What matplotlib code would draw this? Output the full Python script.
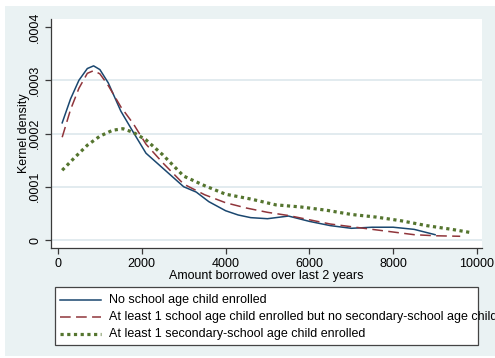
import matplotlib
matplotlib.use("Agg")
import matplotlib.pyplot as plt
from matplotlib.patches import Rectangle
from matplotlib.lines import Line2D

plt.rcParams['font.family'] = ['Liberation Sans', 'DejaVu Sans']

# densities (y in units of 1e-4)
x_none = [100, 300, 500, 700, 850, 1000, 1200, 1500, 1800, 2100, 2500, 3000,
          3300, 3600, 4000, 4300, 4600, 5000, 5500, 6000, 6500, 7000, 7500,
          8000, 8500, 9000]
y_none = [2.20, 2.65, 3.00, 3.22, 3.27, 3.20, 2.95, 2.42, 2.02, 1.63, 1.35, 1.00,
          0.90, 0.72, 0.55, 0.47, 0.42, 0.40, 0.45, 0.35, 0.27, 0.22, 0.24,
          0.24, 0.20, 0.10]

x_prim = [100, 300, 500, 700, 850, 1000, 1200, 1500, 1800, 2100, 2500, 3000,
          3500, 4000, 4500, 5000, 5500, 6000, 6500, 7000, 7500, 8000, 8500,
          9000, 9600]
y_prim = [1.93, 2.45, 2.85, 3.13, 3.18, 3.12, 2.90, 2.50, 2.18, 1.80, 1.45, 1.05,
          0.85, 0.70, 0.60, 0.52, 0.46, 0.38, 0.30, 0.25, 0.20, 0.15, 0.10,
          0.08, 0.07]

x_sec = [100, 400, 700, 1000, 1300, 1550, 1800, 2100, 2500, 3000, 3500, 4000,
         4600, 5200, 5800, 6400, 7000, 7600, 8200, 8800, 9400, 9850]
y_sec = [1.31, 1.55, 1.78, 1.95, 2.06, 2.09, 2.02, 1.88, 1.60, 1.20, 1.02, 0.86,
         0.77, 0.66, 0.62, 0.56, 0.48, 0.43, 0.36, 0.27, 0.20, 0.14]

labels = ["No school age child enrolled",
          "At least 1 school age child enrolled but no secondary-school age child enrolled",
          "At least 1 secondary-school age child enrolled"]

xticks = [0, 2000, 4000, 6000, 8000, 10000]
yticks = [0, 0.0001, 0.0002, 0.0003, 0.0004]
ytick_labels = ["0", ".0001", ".0002", ".0003", ".0004"]

navy = "#1a476f"
maroon = "#90353b"
green = "#55752f"
bg = "#eaf2f3"
axcol = "#3a3a3a"
fs = 9

W, H = 495, 358
fig = plt.figure(figsize=(W / 100, H / 100), dpi=100)
fig.patch.set_facecolor("white")
fig.add_artist(Rectangle((5 / W, 2 / H), 490 / W, 350 / H, transform=fig.transFigure,
                         facecolor=bg, edgecolor="none", zorder=-10))

ax = fig.add_axes([51 / W, 1 - 248 / H, 431 / W, 229 / H])
ax.set_facecolor("white")

scale = 1e-4
ax.plot(x_none, [v * scale for v in y_none], color=navy, lw=1.1)
ax.plot(x_prim, [v * scale for v in y_prim], color=maroon, lw=1.1, dashes=(7, 3.5))
ax.plot(x_sec, [v * scale for v in y_sec], color=green, lw=2.3, dashes=(1, 1.1),
        dash_capstyle="butt")

ax.set_xlim(-167, 10120)
ax.set_ylim(-0.000015, 0.000415)
ax.set_xticks(xticks)
ax.set_yticks(yticks)
ax.set_yticklabels(ytick_labels, rotation=90, va="center")

for v in yticks[:-1]:
    ax.axhline(v, color="#dde8ec", lw=1.2, zorder=0)

for s in ["top", "right"]:
    ax.spines[s].set_visible(False)
for s in ["left", "bottom"]:
    ax.spines[s].set_color(axcol)
    ax.spines[s].set_linewidth(0.9)

ax.tick_params(axis="both", colors=axcol, labelcolor="black", length=4, width=0.9,
               labelsize=fs, pad=3)
ax.set_xlabel("Amount borrowed over last 2 years", fontsize=fs)
ax.set_ylabel("Kernel density", fontsize=fs)
ax.xaxis.set_label_coords(0.5, -(270 - 248) / 229)
ax.yaxis.set_label_coords(-(51 - 30) / 431, 0.5)

# legend box (Stata lets the long label run past the frame)
fig.add_artist(Rectangle((55 / W, 1 - 345 / H), 423 / W, 58 / H, transform=fig.transFigure,
                         facecolor="white", edgecolor="#444444", lw=0.9, zorder=5))
rows = [300, 317, 334]
styles = [dict(color=navy, lw=1.1),
          dict(color=maroon, lw=1.1, dashes=(7, 3.5)),
          dict(color=green, lw=2.3, dashes=(1, 1.1), dash_capstyle="butt")]
for yy, lab, st in zip(rows, labels, styles):
    fig.add_artist(Line2D([60 / W, 101 / W], [1 - yy / H, 1 - yy / H],
                          transform=fig.transFigure, zorder=6, **st))
    fig.text(109 / W, 1 - yy / H, lab, fontsize=fs, va="center", ha="left", zorder=6)

fig.savefig("out.png", dpi=100)
